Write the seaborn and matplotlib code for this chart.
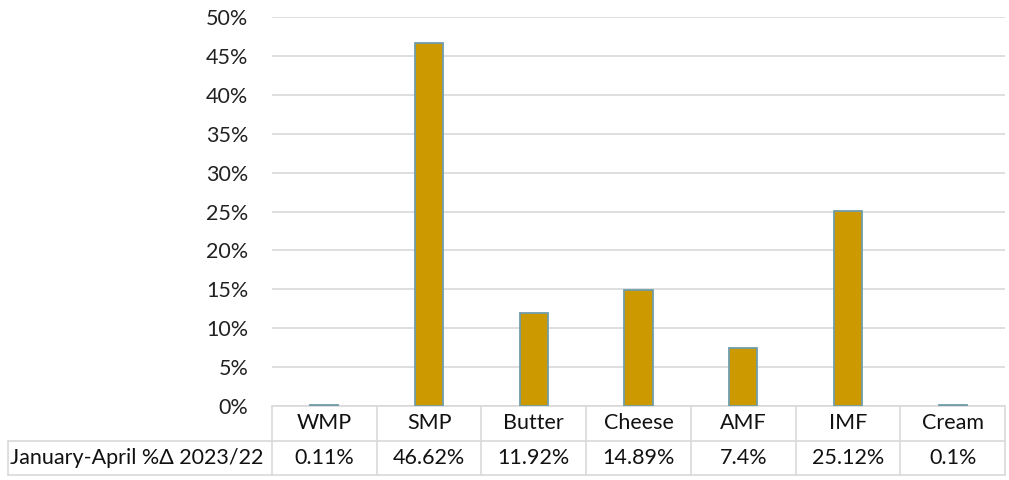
import numpy as np
import pandas as pd
import matplotlib
matplotlib.use("Agg")
import matplotlib.pyplot as plt
import matplotlib.transforms as mtransforms
import seaborn as sns

# data
products = ["WMP", "SMP", "Butter", "Cheese", "AMF", "IMF", "Cream"]
pct_change = [0.11, 46.62, 11.92, 14.89, 7.4, 25.12, 0.1]
cell_labels = ["0.11%", "46.62%", "11.92%", "14.89%", "7.4%", "25.12%", "0.1%"]
row_label = "January-April %\u0394 2023/22"
y_ticks = [0, 5, 10, 15, 20, 25, 30, 35, 40, 45, 50]

sns.set_style("white")
plt.rcParams['font.family'] = ['Lato', 'DejaVu Sans']
FS = 15.5
GRID = "#D9D9D9"

W, H = 1009, 480
fig = plt.figure(figsize=(W / 100, H / 100), dpi=100)
left, right, top, bottom = 272, 1005, 17, 406
ax = fig.add_axes([left / W, (H - bottom) / H, (right - left) / W, (bottom - top) / H])

df = pd.DataFrame({"product": products, "change": pct_change})
sns.barplot(data=df, x="product", y="change", color="#CC9900", width=0.27,
            edgecolor="#6F9DAA", linewidth=1.3, saturation=1, ax=ax, zorder=3)

ax.set_ylim(0, 50)
ax.set_xlim(-0.5, len(products) - 0.5)
ax.set_yticks(y_ticks)
ax.set_yticklabels([f"{t}%" for t in y_ticks], fontsize=FS, color="#222222")
ax.tick_params(axis="y", length=0, pad=17)
ax.set_xticks([])
ax.set_xlabel("")
ax.set_ylabel("")
for s in ax.spines.values():
    s.set_visible(False)
ax.yaxis.grid(True, color=GRID, linewidth=1.2, zorder=0)
ax.set_axisbelow(True)

# data table below the plot, drawn by hand (x in data units, y in axes units)
trans = mtransforms.blended_transform_factory(ax.transData, ax.transAxes)
ax_h = bottom - top
ax_w = right - left
row_h = 34.5 / ax_h
y0, y1, y2 = 0, -row_h, -2 * row_h
n = len(products)
x_lab = -0.5 - (left - 8) / ax_w * n  # left edge of row label cell in data units

line_kw = dict(color=GRID, linewidth=1.2, clip_on=False, transform=trans)
ax.plot([-0.5, n - 0.5], [y0, y0], **line_kw)
ax.plot([x_lab, n - 0.5], [y1, y1], **line_kw)
ax.plot([x_lab, n - 0.5], [y2, y2], **line_kw)
ax.plot([x_lab, x_lab], [y1, y2], **line_kw)
for i in range(n + 1):
    ax.plot([i - 0.5, i - 0.5], [y0, y2], **line_kw)

for i, (p, lab) in enumerate(zip(products, cell_labels)):
    ax.text(i, (y0 + y1) / 2, p, ha="center", va="center", fontsize=FS,
            color="#111111", transform=trans)
    ax.text(i, (y1 + y2) / 2, lab, ha="center", va="center", fontsize=FS,
            color="#111111", transform=trans)
ax.text(x_lab + 0.02, (y1 + y2) / 2, row_label, ha="left", va="center",
        fontsize=FS, color="#111111", transform=trans)

fig.savefig("out.png", dpi=100)
